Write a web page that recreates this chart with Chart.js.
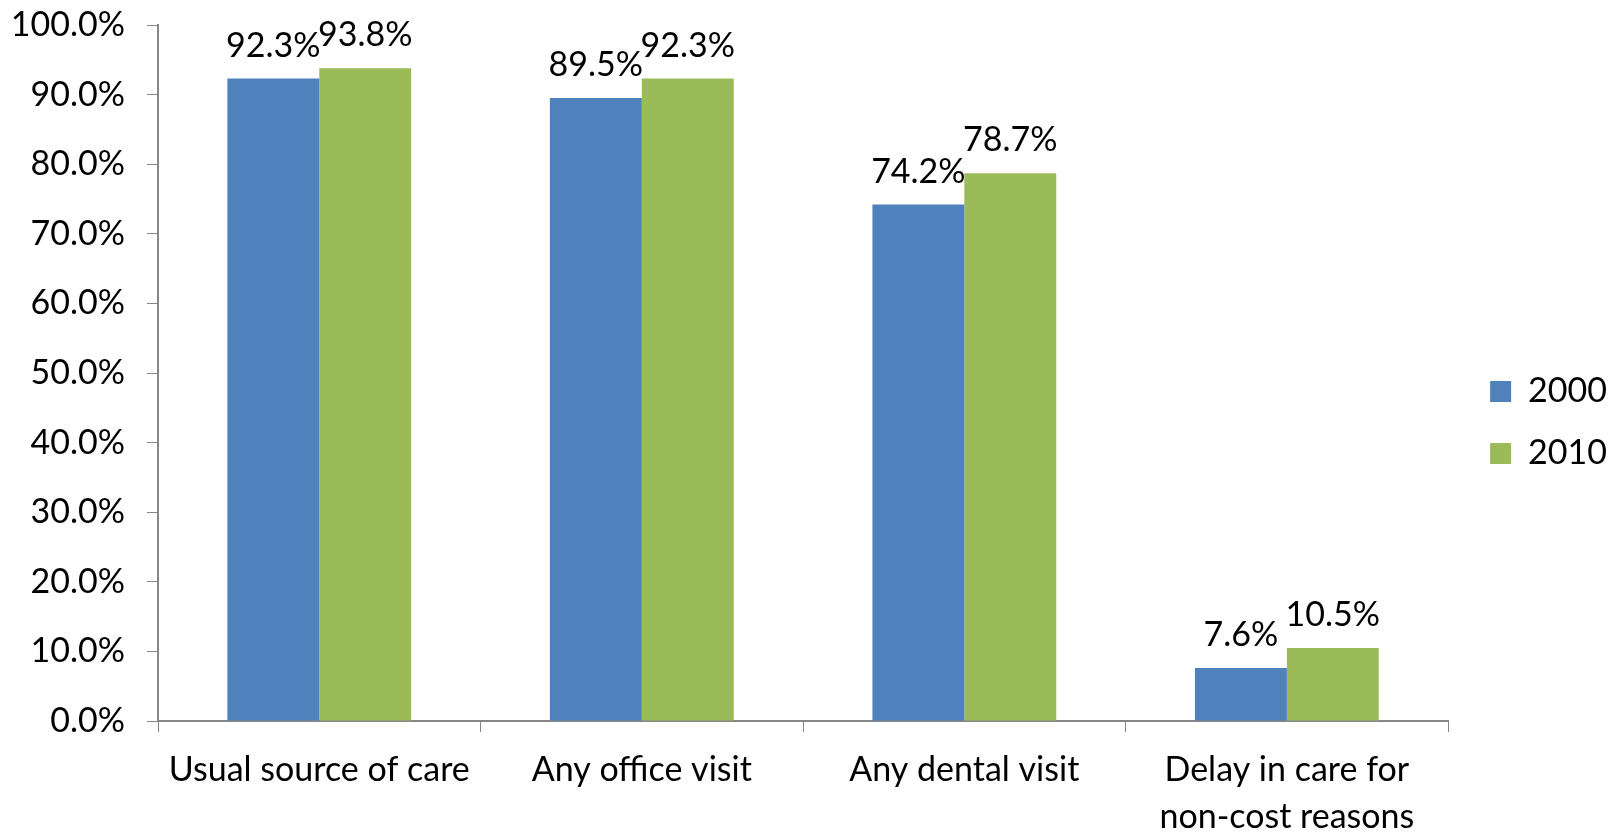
<!DOCTYPE html>
<html>
<head>
<meta charset="utf-8">
<script src="https://cdn.jsdelivr.net/npm/chart.js@4.4.1/dist/chart.umd.min.js"></script>
<style>
  html, body { margin: 0; padding: 0; background: #fff; }
  .chartWrap { width: 1611px; height: 837px; }
</style>
</head>
<body>
<div class="chartWrap">
  <canvas id="chart" width="1611" height="837"></canvas>
</div>
<script>
const categories = [
  "Usual source of care",
  "Any office visit",
  "Any dental visit",
  ["Delay in care for", "non-cost reasons"]
]
const years = ["2000", "2010"]
const values2000 = [92.3, 89.5, 74.2, 7.6]
const values2010 = [93.8, 92.3, 78.7, 10.5]
const yTicks = [0, 10, 20, 30, 40, 50, 60, 70, 80, 90, 100]

const FONT = "Lato, 'Open Sans', sans-serif"
const FONT_SIZE = 34
const AXIS_GREY = "#868686"

// labels on top of the bars
const barLabels = {
  id: "barLabels",
  afterDatasetsDraw(chart) {
    const ctx = chart.ctx
    ctx.save()
    ctx.font = FONT_SIZE + "px " + FONT
    ctx.fillStyle = "#000"
    ctx.textAlign = "center"
    ctx.textBaseline = "alphabetic"
    chart.data.datasets.forEach((ds, i) => {
      chart.getDatasetMeta(i).data.forEach((bar, j) => {
        ctx.fillText(ds.data[j].toFixed(1) + "%", bar.x, bar.y - 22)
      })
    })
    ctx.restore()
  }
}

// nudge the legend a little away from the plot, like the original
const legendNudge = {
  id: "legendNudge",
  afterLayout(chart) {
    const lg = chart.legend
    lg.left += 14
    lg.right += 14
    lg.top += 4
    lg.bottom += 4
  }
}

new Chart(document.getElementById("chart"), {
  type: "bar",
  data: {
    labels: categories,
    datasets: [
      { label: years[0], data: values2000, backgroundColor: "#4F81BD" },
      { label: years[1], data: values2010, backgroundColor: "#9BBB59" }
    ]
  },
  options: {
    responsive: false,
    animation: false,
    layout: { padding: { top: 0, right: 8, left: 0, bottom: 0 } },
    datasets: { bar: { categoryPercentage: 0.57, barPercentage: 1.0 } },
    plugins: {
      legend: {
        position: "right",
        labels: {
          boxWidth: 21,
          boxHeight: 21,
          padding: 28,
          color: "#000",
          font: { family: FONT, size: FONT_SIZE }
        }
      },
      tooltip: { enabled: false }
    },
    scales: {
      x: {
        grid: { drawOnChartArea: false, tickLength: 11, color: AXIS_GREY, offset: true },
        border: { color: AXIS_GREY, width: 2 },
        ticks: { color: "#000", font: { family: FONT, size: FONT_SIZE, lineHeight: 1.38 }, padding: 15, maxRotation: 0 },
        afterFit(scale) { scale.height = 116 }
      },
      y: {
        min: 0,
        max: 100,
        afterBuildTicks(scale) { scale.ticks = yTicks.map(v => ({ value: v })) },
        grid: { drawOnChartArea: false, tickLength: 11, color: AXIS_GREY },
        border: { color: AXIS_GREY, width: 2 },
        ticks: {
          color: "#000",
          font: { family: FONT, size: FONT_SIZE },
          padding: 22,
          callback: v => v.toFixed(1) + "%"
        },
        afterFit(scale) {
          scale.width = 158
          scale.paddingTop = 25
          scale.paddingBottom = 0
        }
      }
    }
  },
  plugins: [barLabels, legendNudge]
})
</script>
</body>
</html>
